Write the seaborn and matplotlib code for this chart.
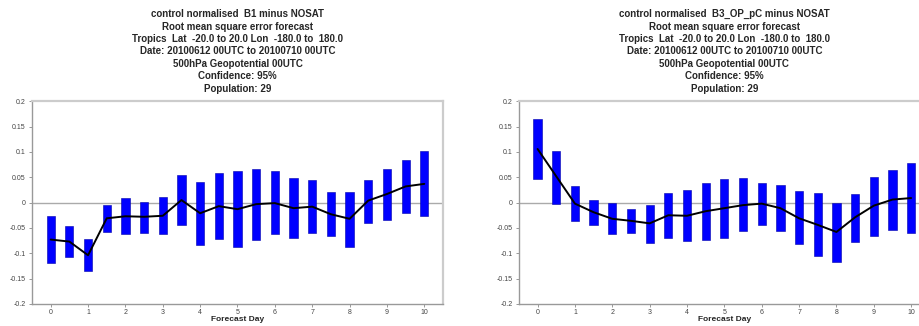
import numpy as np
import pandas as pd
import seaborn as sns
import matplotlib.pyplot as plt

# Data: forecast day (half-day steps), confidence interval top/bottom and mean
days = [0, 0.5, 1, 1.5, 2, 2.5, 3, 3.5, 4, 4.5, 5, 5.5, 6, 6.5, 7, 7.5, 8, 8.5, 9, 9.5, 10]

b1_top = [-0.026, -0.046, -0.071, -0.005, 0.009, 0.002, 0.011, 0.054, 0.041, 0.058, 0.062,
          0.067, 0.062, 0.048, 0.045, 0.021, 0.021, 0.045, 0.067, 0.084, 0.101]
b1_bot = [-0.119, -0.108, -0.136, -0.059, -0.063, -0.060, -0.062, -0.045, -0.084, -0.072, -0.087,
          -0.073, -0.063, -0.070, -0.060, -0.065, -0.087, -0.040, -0.034, -0.021, -0.026]
b1_mean = [-0.073, -0.077, -0.104, -0.031, -0.027, -0.028, -0.026, 0.005, -0.021, -0.007, -0.013,
           -0.003, -0.001, -0.011, -0.008, -0.023, -0.032, 0.004, 0.017, 0.032, 0.037]

b3_top = [0.165, 0.101, 0.033, 0.006, -0.001, -0.013, -0.005, 0.019, 0.024, 0.038, 0.047,
          0.048, 0.039, 0.034, 0.022, 0.019, 0.000, 0.017, 0.050, 0.065, 0.079]
b3_bot = [0.046, -0.002, -0.037, -0.045, -0.063, -0.061, -0.079, -0.069, -0.076, -0.074, -0.070,
          -0.056, -0.044, -0.057, -0.082, -0.106, -0.117, -0.078, -0.065, -0.054, -0.061]
b3_mean = [0.106, 0.052, -0.002, -0.019, -0.032, -0.036, -0.041, -0.025, -0.026, -0.017, -0.011,
           -0.005, -0.002, -0.011, -0.031, -0.044, -0.058, -0.029, -0.006, 0.006, 0.009]

experiments = ['B1', 'B3_OP_pC']
yticks = [-0.2, -0.15, -0.1, -0.05, 0, 0.05, 0.1, 0.15, 0.2]
ytick_labels = ['-0.2', '-0.15', '-0.1', '-0.05', '0', '0.05', '0.1', '0.15', '0.2']

title_tpl = ("control normalised  {} minus NOSAT\n"
             "Root mean square error forecast\n"
             "Tropics  Lat  -20.0 to 20.0 Lon  -180.0 to  180.0\n"
             "Date: 20100612 00UTC to 20100710 00UTC\n"
             "500hPa Geopotential 00UTC\n"
             "Confidence: 95%\n"
             "Population: 29")

sns.set_style('white')
plt.rcParams['font.family'] = ['Liberation Sans', 'DejaVu Sans']

fig = plt.figure(figsize=(9.2, 3.26), dpi=100)
axes = [fig.add_axes([0.0348, 0.068, 0.4467, 0.621]),
        fig.add_axes([0.564, 0.068, 0.4467, 0.621])]

panels = [(b1_top, b1_bot, b1_mean), (b3_top, b3_bot, b3_mean)]

for ax, name, (top, bot, mean) in zip(axes, experiments, panels):
    df = pd.DataFrame({'day': days, 'top': top, 'bot': bot, 'mean': mean})
    ax.axhline(0, color='#aaaaaa', lw=1, zorder=1)
    ax.bar(df['day'], df['top'] - df['bot'], bottom=df['bot'], width=0.22,
           color='#0000ff', edgecolor='#0000aa', linewidth=0.4, zorder=2)
    sns.lineplot(data=df, x='day', y='mean', color='black', lw=1.4, ax=ax, zorder=3)

    ax.set_xlim(-0.5, 10.5)
    ax.set_ylim(-0.2, 0.2)
    ax.set_xticks(range(11))
    ax.set_xticklabels([str(i) for i in range(11)], fontsize=5, color='#444444')
    ax.set_yticks(yticks)
    ax.set_yticklabels(ytick_labels, fontsize=5, color='#444444')
    ax.tick_params(axis='both', direction='out', length=2.5, width=0.6, color='#888888')
    ax.tick_params(axis='x', bottom=True, pad=1.5)
    ax.tick_params(axis='y', left=True, pad=2)

    for side in ['top', 'right']:
        ax.spines[side].set_color('#cccccc')
        ax.spines[side].set_linewidth(1.6)
    for side in ['left', 'bottom']:
        ax.spines[side].set_color('#999999')
        ax.spines[side].set_linewidth(1.0)

    ax.set_xlabel('Forecast Day', fontsize=6, fontweight='bold')
    ax.xaxis.set_label_coords(0.5, -0.058)
    ax.xaxis.label.set_va('top')
    ax.set_ylabel('')
    ax.set_title(title_tpl.format(name), fontsize=7, fontweight='bold',
                 linespacing=1.3, pad=7)

fig.savefig('out.png', dpi=100)
